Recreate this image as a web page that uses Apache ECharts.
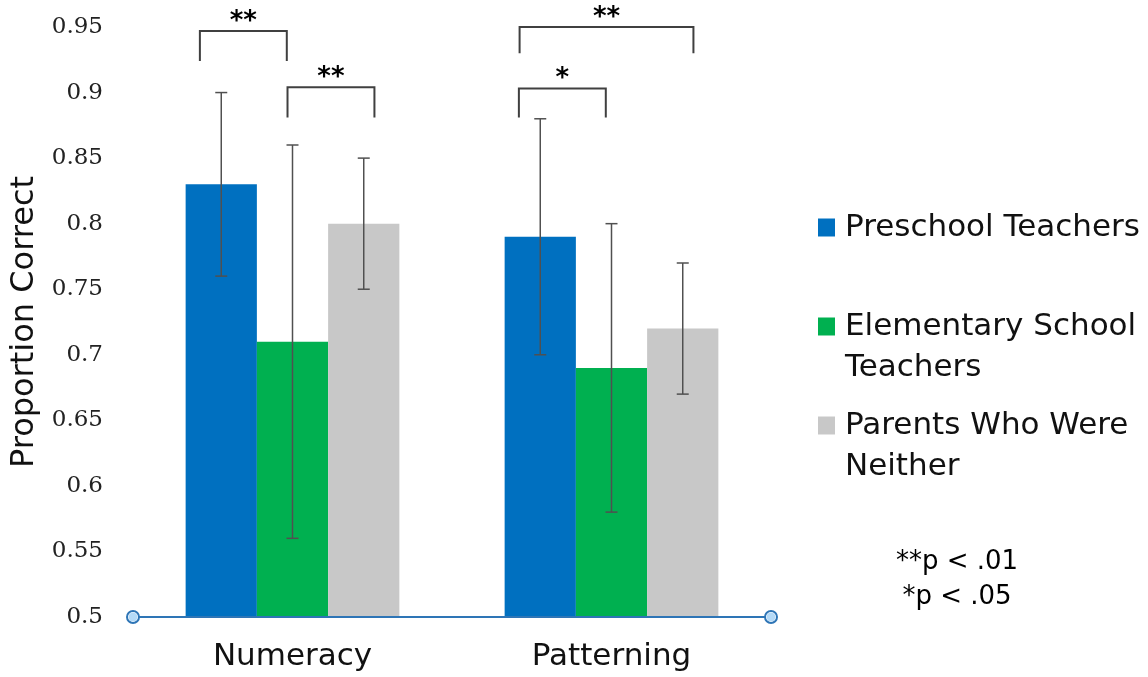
<!DOCTYPE html>
<html><head><meta charset="utf-8">
<script src="https://cdn.jsdelivr.net/npm/echarts@6/dist/echarts.min.js"></script>
<style>html,body{margin:0;padding:0;background:#fff}#c{width:1148px;height:677px}</style>
</head><body><div id="c"></div>
<script>
// ---- data ----
const categories = ['Numeracy', 'Patterning'];
const groups = ['Preschool Teachers', 'Elementary School Teachers', 'Parents Who Were Neither'];
const legendLabels = ['Preschool Teachers', '\nElementary School\nTeachers', '\nParents Who Were\nNeither'];
const preschool = [0.83, 0.79];
const elementary = [0.71, 0.69];
const parents = [0.80, 0.72];
const preschoolErr = [0.07, 0.09];
const elementaryErr = [0.15, 0.11];
const parentsErr = [0.05, 0.05];
const yMin = 0.5, yMax = 0.95, yStep = 0.05;
// significance brackets: [category, from bar slot, to bar slot, top value, leg end value, label]
const brackets = [
  [0, -0.3, 0.92, 0.947, 0.924, '**'],
  [0, 0.93, 2.15, 0.904, 0.881, '**'],
  [1, -0.29, 2.15, 0.950, 0.930, '**'],
  [1, -0.3, 0.92, 0.903, 0.881, '*']
];
const notes = ['**p < .01', '*p < .05'];

// ---- chart ----
const colors = ['#0070C0', '#00B050', '#C8C8C8'];
const GAP = 0.33;
const values = [preschool, elementary, parents];
const errs = [preschoolErr, elementaryErr, parentsErr];
const errData = [];
values.forEach((arr, s) => arr.forEach((v, c) => errData.push([c, v - errs[s][c], v + errs[s][c], s])));

function barW(api) { return api.size([1, 0])[0] * (1 - GAP) / 3; }

function renderErr(params, api) {
  const cat = api.value(0), lo = api.value(1), hi = api.value(2), slot = api.value(3);
  const bw = barW(api);
  const t = api.coord([cat, hi]), b = api.coord([cat, lo]);
  const x = t[0] + (slot - 1) * bw;
  const cap = 6;
  const st = { stroke: '#505050', lineWidth: 1.5 };
  return { type: 'group', children: [
    { type: 'line', shape: { x1: x, y1: t[1], x2: x, y2: b[1] }, style: st },
    { type: 'line', shape: { x1: x - cap, y1: t[1], x2: x + cap, y2: t[1] }, style: st },
    { type: 'line', shape: { x1: x - cap, y1: b[1], x2: x + cap, y2: b[1] }, style: st }
  ]};
}

function renderBracket(params, api) {
  const br = brackets[params.dataIndex];
  const cat = br[0];
  const bw = barW(api);
  const top = api.coord([cat, br[3]]), leg = api.coord([cat, br[4]]);
  const x1 = top[0] + (br[1] - 1) * bw, x2 = top[0] + (br[2] - 1) * bw;
  const st = { stroke: '#404040', lineWidth: 2, fill: null };
  return { type: 'group', children: [
    { type: 'polyline', shape: { points: [[x1, leg[1]], [x1, top[1]], [x2, top[1]], [x2, leg[1]]] }, style: st },
    { type: 'text', style: { text: br[5], x: (x1 + x2) / 2, y: top[1] - 9, align: 'center', verticalAlign: 'middle',
      fontFamily: 'DejaVu Sans', fontSize: 26, fontWeight: 'bold', fill: '#000' } }
  ]};
}

const chart = echarts.init(document.getElementById('c'), null, { renderer: 'canvas' });
const legendTops = [207, 265, 364];
chart.setOption({
  animation: false,
  backgroundColor: '#fff',
  grid: { left: 133, right: 377, top: 27, bottom: 60 },
  legend: groups.map((g, i) => ({
    data: [g], left: 818, top: legendTops[i], orient: 'vertical', icon: 'rect',
    itemWidth: 17, itemHeight: 18, padding: 0, selectedMode: false,
    formatter: () => legendLabels[i],
    textStyle: { fontFamily: 'DejaVu Sans', fontSize: 31, color: '#111', lineHeight: 41, padding: [0, 0, 0, 5] }
  })),
  xAxis: [{
    type: 'category', data: categories, position: 'bottom', z: 3,
    axisLine: { lineStyle: { color: '#2E75B6', width: 2 }, symbol: ['emptyCircle', 'emptyCircle'], symbolSize: [12, 12] },
    axisTick: { show: false },
    axisLabel: { fontFamily: 'DejaVu Sans', fontSize: 31, color: '#111', margin: 24 }
  }, {
    type: 'category', data: categories, position: 'bottom', z: 4,
    axisLine: { lineStyle: { color: '#B5DAF7', width: 0 }, symbol: ['circle', 'circle'], symbolSize: [9, 9] },
    axisTick: { show: false }, axisLabel: { show: false }
  }],
  yAxis: {
    type: 'value', min: yMin, max: yMax, interval: yStep,
    axisLine: { show: false }, axisTick: { show: false }, splitLine: { show: false },
    axisLabel: { fontFamily: 'DejaVu Serif', fontSize: 23, color: '#222', margin: 30 },
    name: 'Proportion Correct', nameLocation: 'middle', nameRotate: 90, nameGap: 88,
    nameTextStyle: { fontFamily: 'DejaVu Sans', fontSize: 32, color: '#111' }
  },
  series: [
    ...groups.map((g, i) => ({
      name: g, type: 'bar', data: values[i], itemStyle: { color: colors[i] },
      barGap: 0, barCategoryGap: (GAP * 100) + '%'
    })),
    { type: 'custom', name: 'err', data: errData, renderItem: renderErr, z: 5, clip: false,
      encode: { x: 0, y: [1, 2] }, silent: true },
    { type: 'custom', name: 'sig', data: brackets.map(b => [b[0], b[3]]), renderItem: renderBracket, z: 5, clip: false,
      encode: { x: 0, y: 1 }, silent: true }
  ],
  graphic: [{
    type: 'text', x: 957, y: 580,
    style: { text: notes.join('\n'), fontFamily: 'DejaVu Sans', fontSize: 26, lineHeight: 35,
      align: 'center', verticalAlign: 'middle', fill: '#000' }
  }]
});
</script></body></html>
